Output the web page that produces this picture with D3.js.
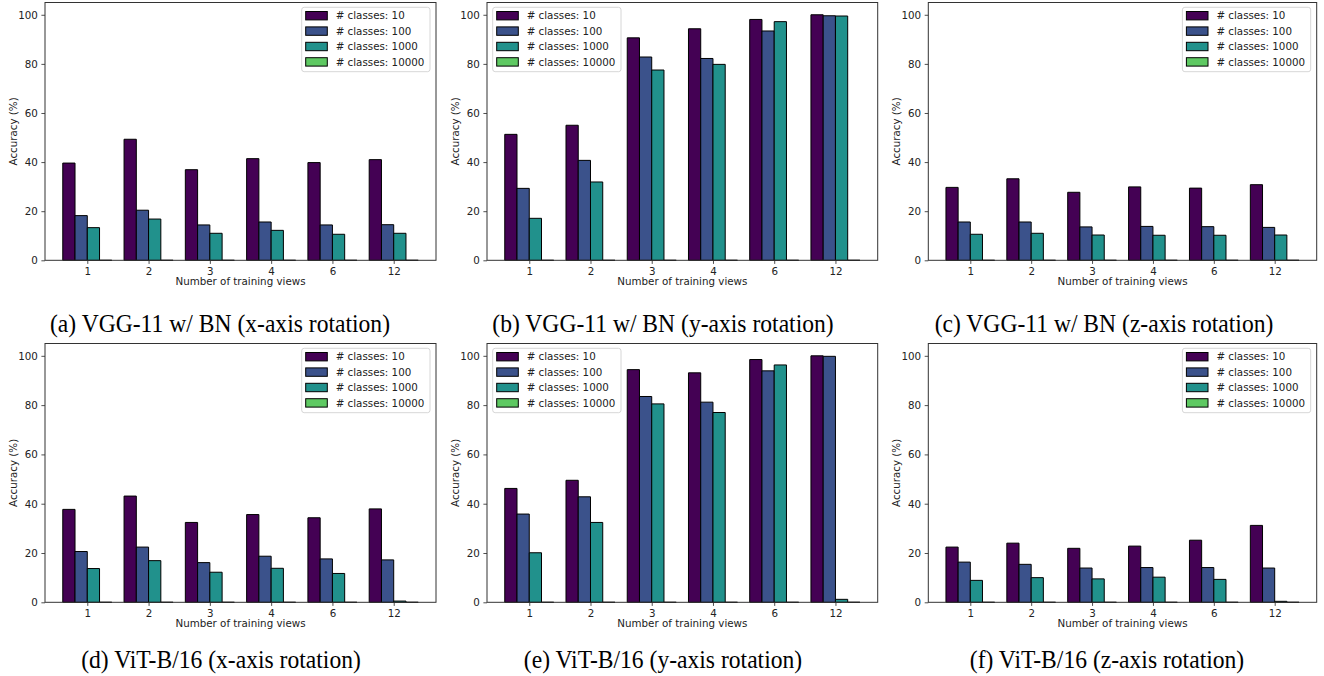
<!DOCTYPE html>
<html><head><meta charset="utf-8">
<script src="https://cdn.jsdelivr.net/npm/d3@7"></script>
<style>
html,body{margin:0;padding:0;background:#fff;}
svg{display:block;}
</style></head>
<body>
<svg id="chart" width="1324" height="676"></svg>
<script>
// ---------------- data ----------------
const categories = ["1", "2", "3", "4", "6", "12"];
const seriesNames = ["# classes: 10", "# classes: 100", "# classes: 1000", "# classes: 10000"];
const yTicks = [0, 20, 40, 60, 80, 100];

// each panel: rows = series (10, 100, 1000, 10000 classes), columns = categories
const vggX = [
  [39.6, 49.3, 36.9, 41.4, 39.8, 41.0],
  [18.2, 20.4, 14.4, 15.6, 14.4, 14.5],
  [13.3, 16.8, 11.0, 12.2, 10.6, 11.0],
  [0, 0, 0, 0, 0, 0]
];
const vggY = [
  [51.3, 55.0, 90.6, 94.3, 98.1, 100.0],
  [29.3, 40.7, 82.8, 82.2, 93.4, 99.6],
  [17.1, 31.9, 77.5, 79.8, 97.2, 99.5],
  [0, 0, 0, 0, 0, 0]
];
const vggZ = [
  [29.7, 33.2, 27.7, 29.9, 29.4, 30.8],
  [15.6, 15.6, 13.6, 13.8, 13.7, 13.4],
  [10.6, 11.0, 10.3, 10.2, 10.2, 10.3],
  [0, 0, 0, 0, 0, 0]
];
const vitX = [
  [37.7, 43.1, 32.4, 35.6, 34.3, 37.9],
  [20.6, 22.4, 16.1, 18.7, 17.6, 17.2],
  [13.7, 16.9, 12.2, 13.8, 11.7, 0.5],
  [0, 0, 0, 0, 0, 0]
];
const vitY = [
  [46.2, 49.5, 94.4, 93.1, 98.5, 100.0],
  [35.8, 42.8, 83.5, 81.2, 93.9, 99.8],
  [20.1, 32.4, 80.5, 77.0, 96.3, 1.2],
  [0, 0, 0, 0, 0, 0]
];
const vitZ = [
  [22.4, 24.0, 21.9, 22.8, 25.2, 31.2],
  [16.3, 15.4, 13.9, 14.1, 14.1, 13.9],
  [8.9, 10.0, 9.5, 10.2, 9.3, 0.4],
  [0, 0, 0, 0, 0, 0]
];
const captions = [
  "(a) VGG-11 w/ BN (x-axis rotation)",
  "(b) VGG-11 w/ BN (y-axis rotation)",
  "(c) VGG-11 w/ BN (z-axis rotation)",
  "(d) ViT-B/16 (x-axis rotation)",
  "(e) ViT-B/16 (y-axis rotation)",
  "(f) ViT-B/16 (z-axis rotation)"
];
const panelData = [vggX, vggY, vggZ, vitX, vitY, vitZ];

// ---------------- layout / style ----------------
const colors = ["#440154", "#3b528b", "#21918c", "#5ec962"];
const cols = [[45, 436], [487, 877.7], [928.3, 1316.7]];
const rows = [[2.5, 260.3], [343.5, 602.3]];
const legendSide = ["right", "left", "right", "right", "left", "right"];
const captionX = [220, 663, 1104, 221, 663, 1107];
const captionY = [331.5, 668.3];
const FONT = "'DejaVu Sans', sans-serif";
const FS = 10.3;

const svg = d3.select("#chart");
const barW = 0.2;

panelData.forEach((data, pi) => {
  const c = pi % 3, r = Math.floor(pi / 3);
  const [x0, x1] = cols[c];
  const [y0, y1] = rows[r];
  const g = svg.append("g");

  const x = d3.scaleLinear().domain([-0.69, categories.length - 1 + 0.69]).range([x0, x1]);
  const y = d3.scaleLinear().domain([0, 105]).range([y1, y0]);

  // bars
  data.forEach((vals, si) => {
    const off = -0.4 + si * barW;
    g.selectAll(null).data(vals).enter().append("path")
      .attr("d", (v, i) => {
        const xa = x(i + off), xb = x(i + off + barW);
        return `M${xa},${y(0)}V${y(v)}H${xb}V${y(0)}Z`;
      })
      .attr("fill", colors[si])
      .attr("stroke", "#000")
      .attr("stroke-width", 1);
  });

  // axes
  const xAxis = d3.axisBottom(x)
    .tickValues(d3.range(categories.length))
    .tickFormat(i => categories[i])
    .tickSizeOuter(0).tickSize(3.6).tickPadding(3.6);
  const gx = g.append("g").attr("transform", `translate(0,${y1})`).call(xAxis);
  const yAxis = d3.axisLeft(y).tickValues(yTicks).tickSizeOuter(0).tickSize(3.6).tickPadding(3.6);
  const gy = g.append("g").attr("transform", `translate(${x0},0)`).call(yAxis);
  [gx, gy].forEach(a => {
    a.select(".domain").remove();
    a.selectAll("text").attr("font-family", FONT).attr("font-size", FS).attr("fill", "#222");
    a.selectAll("line").attr("stroke", "#222").attr("stroke-width", 0.8);
  });

  // frame
  g.append("rect").attr("x", x0).attr("y", y0).attr("width", x1 - x0).attr("height", y1 - y0)
    .attr("fill", "none").attr("stroke", "#333").attr("stroke-width", 1);

  // axis titles
  g.append("text").attr("x", (x0 + x1) / 2).attr("y", y1 + 25)
    .attr("text-anchor", "middle").attr("font-family", FONT).attr("font-size", FS).attr("fill", "#222")
    .text("Number of training views");
  g.append("text")
    .attr("transform", `translate(${x0 - 28},${(y0 + y1) / 2}) rotate(-90)`)
    .attr("text-anchor", "middle").attr("font-family", FONT).attr("font-size", FS).attr("fill", "#222")
    .text("Accuracy (%)");

  // legend
  const lw = 128.3, lh = 64.4;
  const lx = legendSide[pi] === "right" ? x1 - 6 - lw : x0 + 5.7;
  const ly = y0 + 4.8;
  const lg = g.append("g").attr("transform", `translate(${lx},${ly})`);
  lg.append("rect").attr("width", lw).attr("height", lh).attr("rx", 2.5)
    .attr("fill", "#fff").attr("fill-opacity", 0.8).attr("stroke", "#ccc").attr("stroke-width", 0.8);
  seriesNames.forEach((name, si) => {
    const cy = 8.4 + si * 15.4;
    lg.append("rect").attr("x", 4).attr("y", cy - 4.2).attr("width", 21.6).attr("height", 8.4)
      .attr("fill", colors[si]).attr("stroke", "#000").attr("stroke-width", 1);
    lg.append("text").attr("x", 34).attr("y", cy).attr("dy", "0.36em")
      .attr("font-family", FONT).attr("font-size", FS).attr("fill", "#222").text(name);
  });

  // caption
  svg.append("text")
    .attr("transform", `translate(${captionX[pi]},${captionY[r]}) scale(1,1.1)`)
    .attr("text-anchor", "middle")
    .attr("font-family", "'Liberation Serif', 'Times New Roman', serif")
    .attr("font-size", 23.6).attr("fill", "#000")
    .text(captions[pi]);
});
</script>
</body></html>
